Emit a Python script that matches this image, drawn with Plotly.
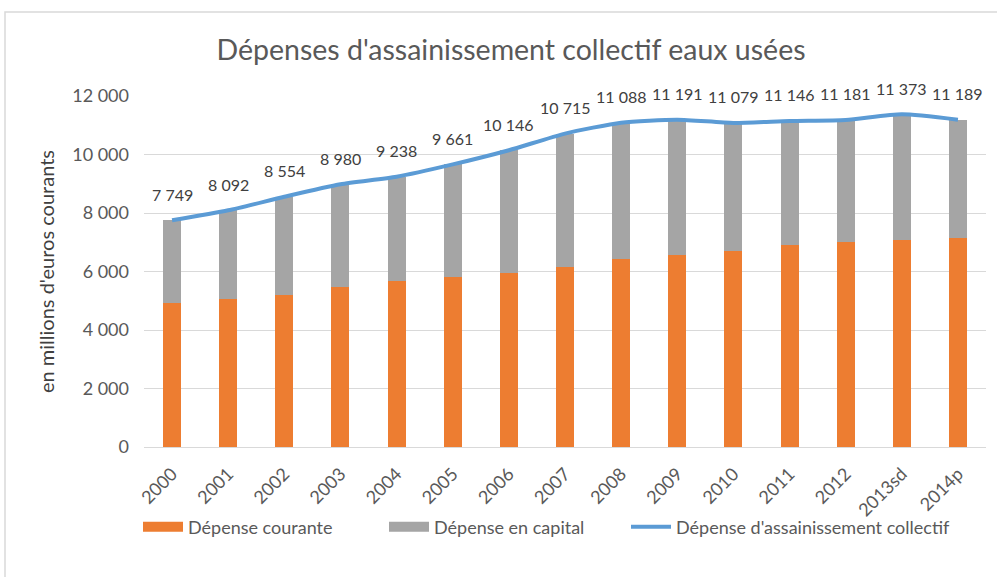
import plotly.graph_objects as go

years = ["2000", "2001", "2002", "2003", "2004", "2005", "2006", "2007",
         "2008", "2009", "2010", "2011", "2012", "2013sd", "2014p"]
total = [7749, 8092, 8554, 8980, 9238, 9661, 10146, 10715,
         11088, 11191, 11079, 11146, 11181, 11373, 11189]
courante = [4920, 5070, 5180, 5470, 5680, 5800, 5945, 6150,
            6420, 6570, 6705, 6900, 7000, 7080, 7150]
capital = [t - c for t, c in zip(total, courante)]

FONT = "Lato"
TXT = "#595959"
ORANGE = "#ED7D31"
GREY = "#A5A5A5"
BLUE = "#5B9BD5"


def fmt(v):
    return f"{v:,}".replace(",", " ")


fig = go.Figure()
fig.add_trace(go.Bar(x=years, y=courante, name="Dépense courante",
                     legendgroup="cour", showlegend=False,
                     marker=dict(color=ORANGE, line=dict(width=0))))
fig.add_trace(go.Bar(x=years, y=capital, name="Dépense en capital",
                     legendgroup="cap", showlegend=False,
                     marker=dict(color=GREY, line=dict(width=0))))
fig.add_trace(go.Scatter(x=years, y=total, name="Dépense d'assainissement collectif",
                         legend="legend3", mode="lines",
                         line=dict(color=BLUE, width=4, shape="spline", smoothing=0.6)))
# legend entries with wide rectangular swatches for the bar series
fig.add_trace(go.Scatter(x=[None], y=[None], name="Dépense courante", legend="legend",
                         legendgroup="cour", mode="lines",
                         line=dict(color=ORANGE, width=11)))
fig.add_trace(go.Scatter(x=[None], y=[None], name="Dépense en capital", legend="legend2",
                         legendgroup="cap", mode="lines",
                         line=dict(color=GREY, width=11)))

annotations = [dict(x=i, y=v, xref="x", yref="y", text=fmt(v), showarrow=False,
                    yshift=26, font=dict(family=FONT, size=16, color="#404040"))
               for i, v in enumerate(total)]

ly = (447 - 527) / 351


def leg(px):
    return dict(orientation="h", x=(px - 144) / 842, xanchor="left", y=ly, yanchor="middle",
                font=dict(family=FONT, size=18, color=TXT), itemwidth=40,
                bgcolor="rgba(0,0,0,0)")


fig.update_layout(
    width=997, height=577,
    margin=dict(l=144, r=11, t=96, b=130, autoexpand=False),
    barmode="stack", bargap=0.68,
    paper_bgcolor="white", plot_bgcolor="white",
    separators=", ",
    font=dict(family=FONT, size=16, color=TXT),
    title=dict(text="Dépenses d'assainissement collectif eaux usées",
               x=511 / 997, xanchor="center", y=1 - 50 / 577, yanchor="middle",
               font=dict(family=FONT, size=28.5, color=TXT)),
    showlegend=True,
    legend=leg(138), legend2=leg(384), legend3=leg(626),
    xaxis=dict(type="category", tickangle=-45, showgrid=False, showline=False,
               ticks="", automargin=False, range=[-0.5, len(years) - 0.5],
               ticklabelstandoff=12,
               tickfont=dict(family=FONT, size=18, color=TXT)),
    yaxis=dict(range=[0, 12000], dtick=2000, tickformat=",d",
               showgrid=True, gridcolor="#D9D9D9", gridwidth=1,
               zeroline=True, zerolinecolor="#D9D9D9", zerolinewidth=1,
               showline=False, ticks="", ticklabelstandoff=14, automargin=False,
               tickfont=dict(family=FONT, size=18, color=TXT),
               title=dict(text="en millions d'euros courants", standoff=12,
                          font=dict(family=FONT, size=20, color="#404040"))),
    annotations=annotations,
    shapes=[dict(type="rect", xref="paper", yref="paper",
                 x0=(5 - 144) / 842, x1=(1005 - 144) / 842,
                 y0=(447 - 600) / 351, y1=1 + (96 - 12) / 351,
                 line=dict(color="#D9D9D9", width=1.5), layer="below")],
)

fig.write_html("out.html", config={"displayModeBar": False},
               post_script="document.body.style.margin='0';")
